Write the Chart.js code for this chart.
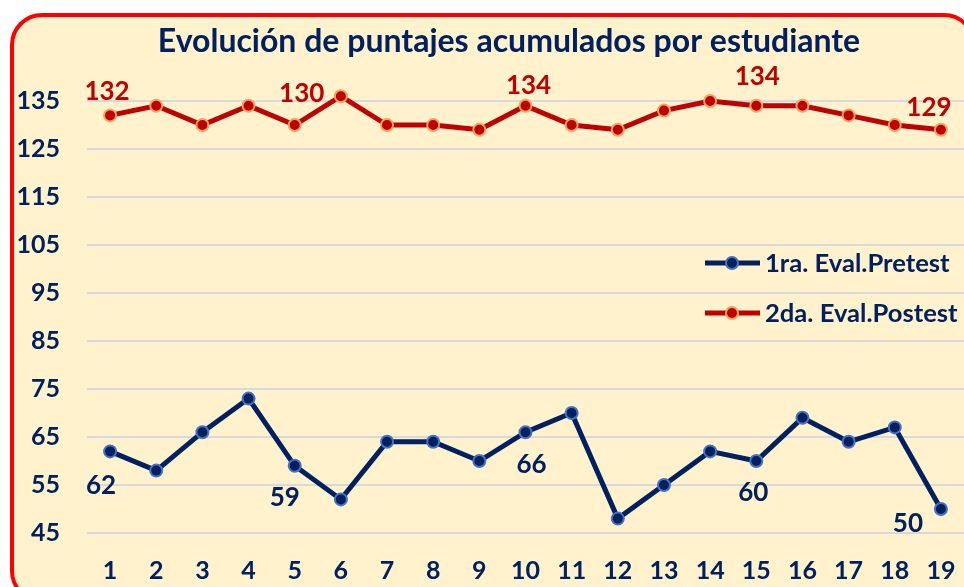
<!DOCTYPE html>
<html><head><meta charset="utf-8">
<script src="https://cdn.jsdelivr.net/npm/chart.js@4/dist/chart.umd.min.js"></script>
<style>
html,body{margin:0;padding:0;background:#fff;overflow:hidden;width:964px;height:587px}
#frame{position:absolute;left:10px;top:13px;width:966px;height:590px;box-sizing:border-box;border:4px solid #ff0000;border-radius:32px;background:#FFF2CC}
#wrap{position:absolute;left:0;top:0;width:964px;height:587px}
</style></head><body>
<div id="frame"></div>
<div id="wrap"><canvas id="c" width="964" height="587"></canvas></div>
<script>
const titleText = 'Evolución de puntajes acumulados por estudiante';
const students = ['1','2','3','4','5','6','7','8','9','10','11','12','13','14','15','16','17','18','19'];
const pretest  = [62,58,66,73,59,52,64,64,60,66,70,48,55,62,60,69,64,67,50];
const postest  = [132,134,130,134,130,136,130,130,129,134,130,129,133,135,134,134,132,130,129];
const yTicks   = [45,55,65,75,85,95,105,115,125,135];
const seriesNames = ['1ra. Eval.Pretest','2da. Eval.Postest'];
const labelledPoints = [0,4,9,14,18];

const NAVY = '#002060', RED = '#C00000';
const FONT = 'Lato';

// label nudges (style), relative to the point
const labelNudge = [
  [[-9,34],[-10,32],[6,32],[-3,32],[-33,15]],
  [[-3,-24],[7,-31],[3,-20],[1,-29],[-12,-22]]
];

const labelPlugin = {
  id: 'labels',
  afterDatasetsDraw(chart) {
    const ctx = chart.ctx;
    ctx.save();
    ctx.textAlign = 'center';
    ctx.textBaseline = 'middle';
    chart.data.datasets.forEach((ds, di) => {
      const meta = chart.getDatasetMeta(di);
      ctx.fillStyle = di === 0 ? NAVY : RED;
      ctx.font = 'bold 26px ' + FONT;
      labelledPoints.forEach((idx, k) => {
        const p = meta.data[idx];
        const n = labelNudge[di][k];
        ctx.fillText(String(ds.data[idx]), p.x + n[0], p.y + n[1]);
      });
    });
    ctx.restore();
  },
  afterDraw(chart) {
    const ctx = chart.ctx;
    ctx.save();
    // title
    ctx.fillStyle = NAVY;
    ctx.font = 'bold 32px ' + FONT;
    ctx.textAlign = 'center';
    ctx.textBaseline = 'middle';
    ctx.fillText(titleText, 509, 42);
    // legend
    const rows = [263, 313];
    chart.data.datasets.forEach((ds, di) => {
      const y = rows[di];
      ctx.strokeStyle = ds.borderColor;
      ctx.lineWidth = 5;
      ctx.beginPath();
      ctx.moveTo(705, y); ctx.lineTo(760, y); ctx.stroke();
      ctx.beginPath();
      ctx.arc(732, y, 6, 0, Math.PI * 2);
      ctx.fillStyle = ds.pointBackgroundColor;
      ctx.fill();
      ctx.lineWidth = 2;
      ctx.strokeStyle = ds.pointBorderColor;
      ctx.stroke();
      ctx.fillStyle = NAVY;
      ctx.font = 'bold 25.6px ' + FONT;
      ctx.textAlign = 'left';
      ctx.fillText(ds.label, 765, y + 1);
    });
    ctx.restore();
  }
};

new Chart(document.getElementById('c'), {
  type: 'line',
  data: {
    labels: students,
    datasets: [
      { label: seriesNames[0], data: pretest, borderColor: NAVY, borderWidth: 5,
        pointBackgroundColor: NAVY, pointBorderColor: '#4472C4', pointBorderWidth: 2, pointRadius: 6,
        tension: 0, clip: false },
      { label: seriesNames[1], data: postest, borderColor: RED, borderWidth: 5,
        pointBackgroundColor: RED, pointBorderColor: '#F4A460', pointBorderWidth: 2, pointRadius: 6,
        tension: 0, clip: false }
    ]
  },
  options: {
    responsive: false, animation: false, devicePixelRatio: 1,
    layout: { autoPadding: false, padding: { top: 77, right: 0, bottom: 0, left: 0 } },
    plugins: { legend: { display: false }, title: { display: false }, tooltip: { enabled: false } },
    scales: {
      x: {
        offset: true,
        grid: { display: false, drawTicks: false },
        border: { display: false },
        ticks: { color: NAVY, font: { family: FONT, size: 25, weight: 'bold' }, padding: 23, maxRotation: 0, autoSkip: false },
        afterFit(s) { s.height = 54; s.paddingLeft = 0; s.paddingRight = 0; }
      },
      y: {
        min: 45, max: 140,
        afterBuildTicks(s) { s.ticks = yTicks.map(v => ({ value: v })); },
        grid: { color: '#D9D9D9', lineWidth: 2, drawTicks: false },
        border: { display: false },
        ticks: { color: NAVY, font: { family: FONT, size: 25, weight: 'bold' }, padding: 27 },
        afterFit(s) { s.width = 87; s.paddingTop = 0; s.paddingBottom = 0; }
      }
    }
  },
  plugins: [labelPlugin]
});
</script>
</body></html>
